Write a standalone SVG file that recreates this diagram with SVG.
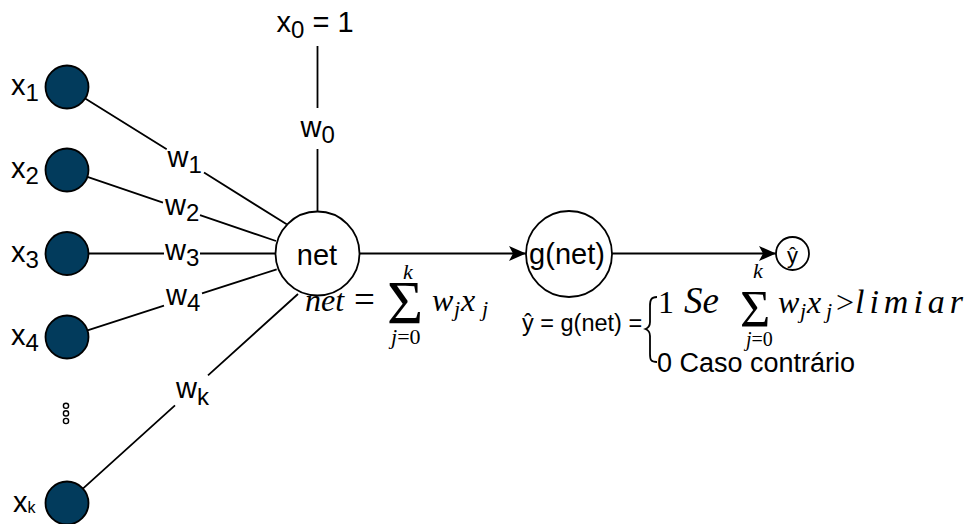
<svg xmlns="http://www.w3.org/2000/svg" width="969" height="524" viewBox="0 0 969 524">
<style>
.in{fill:#023b5c;stroke:#000;stroke-width:1.8}
.nd{fill:#fff;stroke:#000;stroke-width:1.8}
.ln{fill:none;stroke:#000;stroke-width:1.8}
.t{font-family:"Liberation Sans",Arial,sans-serif;font-size:29px;fill:#000}
.s{font-size:24px}
.m{font-family:"Liberation Serif","Times New Roman",serif;font-style:italic;font-size:32px;fill:#000}
.u{font-style:normal}
.sc{font-size:22px}
</style>
<defs>
<marker id="ar" markerWidth="18" markerHeight="16" refX="17" refY="7.5" orient="auto" markerUnits="userSpaceOnUse">
<path d="M0 0 L17 7.5 L0 15 L4 7.5 Z" fill="#000"/>
</marker>
</defs>
<g id="connectors">
<path class="ln" d="M317.5 46 L317.5 108 M317.5 149 L317.5 211.5"/>
<path class="ln" d="M85.2 98.4 L166.7 149.3 M204 172.6 L286.7 224.3"/>
<path class="ln" d="M87.4 176.9 L163 202.6 M200 215.2 L276 241"/>
<path class="ln" d="M88.5 253.5 L164 253.5 M200 253.5 L275.5 253.5"/>
<path class="ln" d="M87.5 330.4 L164 305.7 M202 293.4 L276.7 269.3"/>
<path class="ln" d="M82.9 488.6 L175 405.3 M208 375.4 L298 294"/>
<path class="ln" d="M359.5 253.5 L526 253.5" marker-end="url(#ar)"/>
<path class="ln" d="M612 253.5 L776 253.5" marker-end="url(#ar)"/>
</g>
<g id="node-x1"><circle class="in" cx="67" cy="87" r="21.5"/><text class="t" x="11" y="94.5">x<tspan class="s" dy="6">1</tspan></text></g>
<g id="node-x2"><circle class="in" cx="67" cy="170" r="21.5"/><text class="t" x="11" y="177.5">x<tspan class="s" dy="6">2</tspan></text></g>
<g id="node-x3"><circle class="in" cx="67" cy="253.5" r="21.5"/><text class="t" x="11" y="261.5">x<tspan class="s" dy="6">3</tspan></text></g>
<g id="node-x4"><circle class="in" cx="67" cy="337" r="21.5"/><text class="t" x="11" y="344.5">x<tspan class="s" dy="6">4</tspan></text></g>
<g id="node-dots" fill="none" stroke="#000" stroke-width="1.4"><circle cx="66" cy="405.8" r="2.6"/><circle cx="66" cy="413.4" r="2.6"/><circle cx="66" cy="421" r="2.6"/></g>
<g id="node-xk"><circle class="in" cx="67" cy="503" r="21.5"/><text class="t" x="13" y="512">x<tspan style="font-size:16px" dy="1">k</tspan></text></g>
<g id="node-x0"><text class="t" x="276.5" y="32">x<tspan class="s" dy="6">0</tspan><tspan dy="-6"> = 1</tspan></text></g>
<g id="labels">
<text class="t" x="300.5" y="137">w<tspan class="s" dy="6">0</tspan></text>
<text class="t" x="167.5" y="167">w<tspan class="s" dy="6">1</tspan></text>
<text class="t" x="165" y="215">w<tspan class="s" dy="6">2</tspan></text>
<text class="t" x="165" y="260">w<tspan class="s" dy="6">3</tspan></text>
<text class="t" x="166" y="305">w<tspan class="s" dy="6">4</tspan></text>
<text class="t" x="176" y="398">w<tspan class="s" dy="7">k</tspan></text>
</g>
<g id="node-net"><circle class="nd" cx="317.5" cy="253.5" r="42"/><text class="t" x="317" y="265" text-anchor="middle">net</text></g>
<g id="node-gnet"><circle class="nd" cx="569" cy="254" r="43"/><text class="t" x="567" y="264" text-anchor="middle">g(net)</text></g>
<g id="node-yhat"><circle class="nd" cx="792.5" cy="253.5" r="16.5"/><text class="t" style="font-size:22px" x="792.5" y="263" text-anchor="middle">ŷ</text></g>
<g id="formula-net">
<text class="m"><tspan x="305" y="311">net</tspan><tspan class="u" style="font-size:37px" x="354" y="312">=</tspan><tspan class="u" style="font-size:62px" x="387" y="323">Σ</tspan><tspan class="sc" x="403" y="279">k</tspan><tspan class="sc" x="391" y="344">j</tspan><tspan class="sc u">=0</tspan><tspan x="432" y="311">w</tspan><tspan class="sc" x="454" y="316">j</tspan><tspan x="461" y="311">x</tspan><tspan class="sc" x="482" y="316">j</tspan></text>
</g>
<g id="formula-g">
<text class="t" style="font-size:23.5px" x="522" y="331">ŷ = g(net) =</text>
<path class="ln" stroke-width="2" d="M657 297 C651 297 650 300 650 306 L650 322 C650 326 648 328 645.5 329 C648 330 650 332 650 336 L650 354 C650 360 651 362 657 362"/>
<text class="m"><tspan class="u" x="658" y="313">1</tspan><tspan style="font-size:37px" x="684" y="313">Se</tspan><tspan class="u" style="font-size:52px" x="740" y="327">Σ</tspan><tspan class="sc" x="753" y="278">k</tspan><tspan style="font-size:20px" x="746" y="346">j</tspan><tspan class="u" style="font-size:20px">=0</tspan><tspan x="778" y="313">w</tspan><tspan class="sc" x="800" y="318">j</tspan><tspan x="807" y="313">x</tspan><tspan class="sc" x="826" y="318">j</tspan><tspan class="u" x="836" y="313">&gt;</tspan></text>
<text class="m" style="font-size:34px" x="855" y="313" textLength="108" lengthAdjust="spacing">limiar</text>
<text class="t" style="font-size:27px" x="657" y="372">0 Caso contrário</text>
</g>
</svg>
